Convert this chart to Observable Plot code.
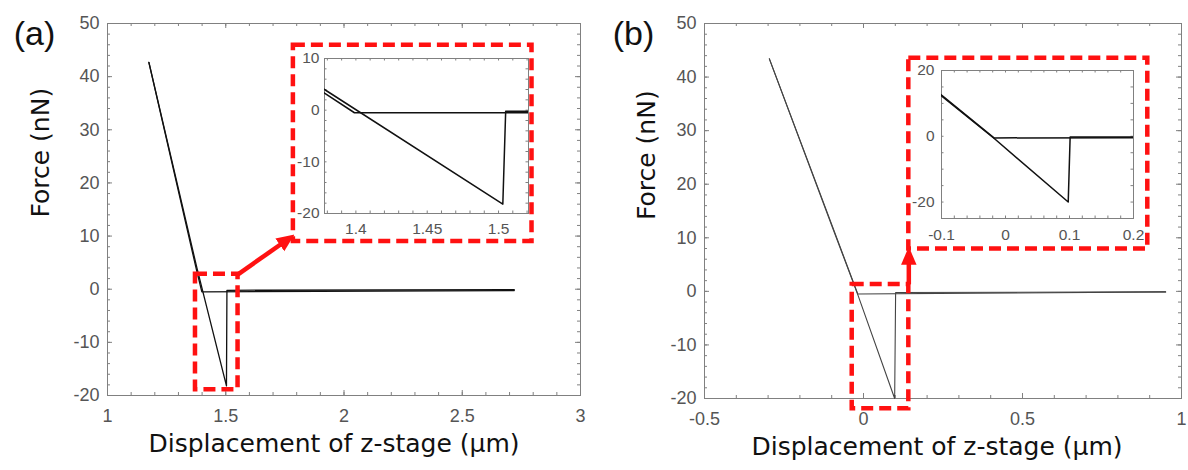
<!DOCTYPE html>
<html><head><meta charset="utf-8">
<script src="https://cdn.jsdelivr.net/npm/d3@7"></script>
<script src="https://cdn.jsdelivr.net/npm/@observablehq/plot@0.6"></script>
<style>
html,body{margin:0;padding:0;background:#fff;}
#root{position:relative;width:1188px;height:470px;overflow:hidden;background:#fff;}
#root svg{position:absolute;}
</style></head><body><div id="root"></div>
<script>
// ---------- data ----------
// Panel (a): approach and retract force curves
const approachA_x = [2.72, 1.399, 1.378, 1.175];
const approachA_y = [-0.25, -0.5, 3.3, 42.7];
const retractA_x = [1.175, 1.378, 1.503, 1.505, 2.72];
const retractA_y = [42.7, 4.0, -18.2, -0.2, -0.1];
// Panel (b)
const approachB_x = [0.95, -0.018, -0.1, -0.296];
const approachB_y = [-0.1, -0.5, 12.5, 43.4];
const retractB_x = [-0.296, -0.1, -0.018, 0.098, 0.101, 0.95];
const retractB_y = [43.4, 12.3, -0.6, -20.0, -0.2, -0.1];

// tick labels
const xTicksA = [1, 1.5, 2, 2.5, 3];
const xTicksB = [-0.5, 0, 0.5, 1];
const yTicksMain = [-20, -10, 0, 10, 20, 30, 40, 50];
const xTicksInsetA = [1.4, 1.45, 1.5];
const yTicksInsetA = [-20, -10, 0, 10];
const xTicksInsetB = [-0.1, 0, 0.1, 0.2];
const yTicksInsetB = [-20, 0, 20];

// annotation boxes / arrows in data units
const zoomBoxA = [1.372, 1.552, -18.9, 2.8];   // x1, x2, y1, y2
const insetBoxA = [1.786, 2.795, 9.0, 45.9];
const arrowA = [1.552, 2.8, 1.766, 9.5];       // x1, y1, x2, y2
const zoomBoxB = [-0.0355, 0.1425, -21.9, 1.3];
const insetBoxB = [0.1425, 0.894, 7.9, 43.5];
const arrowB = [0.1425, 1.3, 0.1425, 7.0];

const xLabel = "Displacement of z-stage (μm)";
const yLabel = "Force (nN)";

// ---------- helpers ----------
const rows = (xs, ys) => xs.map((x, i) => ({x, y: ys[i]}));
const fmt = d => String(d);
const FRAME = "#808080";
const TICKCOL = "#555";
const RED = "#ff1111";
const TITLEFONT = "'DejaVu Sans', sans-serif";

function inwardTicks(xs, ys, innerW, innerH, len) {
  return [
    Plot.tickX(xs, {x: d => d, insetTop: innerH - len, stroke: FRAME}),
    Plot.tickX(xs, {x: d => d, insetBottom: innerH - len, stroke: FRAME}),
    Plot.tickY(ys, {y: d => d, insetRight: innerW - len, stroke: FRAME}),
    Plot.tickY(ys, {y: d => d, insetLeft: innerW - len, stroke: FRAME})
  ];
}
function boxMark(b) {
  return Plot.rect([b], {x1: d => d[0], x2: d => d[1], y1: d => d[2], y2: d => d[3],
    fill: "none", stroke: RED, strokeWidth: 4.5, strokeDasharray: "12,6"});
}
function headMarker(color, context) {
  const ns = "http://www.w3.org/2000/svg";
  const m = document.createElementNS(ns, "marker");
  const id = "head" + Math.random().toString(36).slice(2);
  m.setAttribute("id", id);
  m.setAttribute("viewBox", "-5 -5 10 10");
  m.setAttribute("markerWidth", 18);
  m.setAttribute("markerHeight", 18);
  m.setAttribute("markerUnits", "userSpaceOnUse");
  m.setAttribute("orient", "auto");
  m.setAttribute("refX", 1);
  m.setAttribute("refY", 0);
  const p = document.createElementNS(ns, "path");
  p.setAttribute("d", "M-5,-4.3L5,0L-5,4.3Z");
  p.setAttribute("fill", RED);
  p.setAttribute("stroke", "none");
  m.appendChild(p);
  return m;
}
function arrowMark(a) {
  return Plot.link([a], {x1: d => d[0], y1: d => d[1], x2: d => d[2], y2: d => d[3],
    stroke: RED, strokeWidth: 4.5, markerEnd: headMarker});
}

function mainPanel(o) {
  const innerW = o.width - o.ml - o.mr, innerH = o.height - o.mt - o.mb;
  const svg = Plot.plot({
    width: o.width, height: o.height,
    marginLeft: o.ml, marginRight: o.mr, marginTop: o.mt, marginBottom: o.mb,
    x: {domain: o.xDomain}, y: {domain: [-20, 50]},
    style: {fontFamily: "'Liberation Sans', Arial, sans-serif", background: "transparent", overflow: "visible"},
    marks: [
      Plot.frame({stroke: FRAME}),
      ...inwardTicks(o.xMinor, d3.range(-20, 50.01, 2), innerW, innerH, 3),
      ...inwardTicks(o.xMajor, yTicksMain, innerW, innerH, 5),
      Plot.axisX({ticks: o.xMajor, tickSize: 0, tickPadding: 14, fontSize: 18, fill: TICKCOL, tickFormat: fmt, label: null}),
      Plot.axisY({ticks: yTicksMain, tickSize: 0, tickPadding: 8, fontSize: 18, fill: TICKCOL, tickFormat: fmt, label: null}),
      Plot.line(o.approach, {x: "x", y: "y", stroke: o.lineColor, strokeWidth: o.lw}),
      Plot.line(o.retract, {x: "x", y: "y", stroke: o.lineColor, strokeWidth: o.lw}),
      boxMark(o.zoomBox), boxMark(o.insetBox), arrowMark(o.arrow),
      Plot.text([xLabel], {frameAnchor: "bottom", dy: 48, dx: o.xlDx, fontSize: 25, fontFamily: TITLEFONT, fill: "#111", lineAnchor: "middle"}),
      Plot.text([yLabel], {frameAnchor: "left", dx: o.ylDx, dy: o.ylDy, rotate: -90, fontSize: 25, fontFamily: TITLEFONT, fill: "#111", lineAnchor: "middle"}),
      Plot.text([o.tag], {frameAnchor: "top-left", dx: o.tagDx, dy: 11, fontSize: 34, fill: "#111", textAnchor: "middle", lineAnchor: "middle"})
    ]
  });
  svg.style.left = o.left + "px"; svg.style.top = o.top + "px";
  return svg;
}

function insetPanel(o) {
  const innerW = o.width - o.ml - o.mr, innerH = o.height - o.mt - o.mb;
  const svg = Plot.plot({
    width: o.width, height: o.height,
    marginLeft: o.ml, marginRight: o.mr, marginTop: o.mt, marginBottom: o.mb,
    x: {domain: o.xDomain}, y: {domain: o.yDomain},
    style: {fontFamily: "'Liberation Sans', Arial, sans-serif", background: "transparent", overflow: "visible"},
    marks: [
      Plot.frame({stroke: FRAME}),
      ...inwardTicks(o.xMinor, o.yMinor, innerW, innerH, 2.5),
      Plot.axisX({ticks: o.xMajor, tickSize: 0, tickPadding: o.xPad, fontSize: 15.5, fill: TICKCOL, tickFormat: fmt, label: null}),
      Plot.axisY({ticks: o.yMajor, tickSize: 0, tickPadding: o.yPad, fontSize: 15.5, fill: TICKCOL, tickFormat: fmt, label: null}),
      Plot.line(o.approach, {x: "x", y: "y", stroke: "#111", strokeWidth: 1.5, clip: true}),
      Plot.line(o.retract, {x: "x", y: "y", stroke: "#111", strokeWidth: 1.5, clip: true})
    ]
  });
  svg.style.left = o.left + "px"; svg.style.top = o.top + "px";
  return svg;
}

const root = document.getElementById("root");

root.appendChild(mainPanel({
  left: 0, top: 0, width: 594, height: 470, ml: 107, mr: 14, mt: 23, mb: 75,
  xDomain: [1, 3], xMajor: xTicksA, xMinor: d3.range(1, 3.001, 0.1),
  approach: rows(approachA_x, approachA_y), retract: rows(retractA_x, retractA_y),
  lineColor: "#111", lw: 1.3,
  zoomBox: zoomBoxA, insetBox: insetBoxA, arrow: arrowA,
  xlDx: -10, ylDx: -67, ylDy: 8, tag: "(a)", tagDx: -73
}));

root.appendChild(mainPanel({
  left: 594, top: 0, width: 594, height: 470, ml: 110, mr: 7, mt: 23, mb: 72,
  xDomain: [-0.5, 1], xMajor: xTicksB, xMinor: d3.range(-0.5, 1.001, 0.1),
  approach: rows(approachB_x, approachB_y), retract: rows(retractB_x, retractB_y),
  lineColor: "#444", lw: 1.1,
  zoomBox: zoomBoxB, insetBox: insetBoxB, arrow: arrowB,
  xlDx: -6, ylDx: -58, ylDy: 9, tag: "(b)", tagDx: -71
}));

root.appendChild(insetPanel({
  left: 280, top: 40, width: 260, height: 200, ml: 44, mr: 12, mt: 18, mb: 27,
  xDomain: [1.378, 1.521], yDomain: [-20, 10],
  xMajor: xTicksInsetA, yMajor: yTicksInsetA,
  xMinor: d3.range(1.38, 1.521, 0.01), yMinor: d3.range(-20, 10.01, 2),
  xPad: 9, yPad: 5,
  approach: rows(approachA_x, approachA_y), retract: rows(retractA_x, retractA_y)
}));

root.appendChild(insetPanel({
  left: 900, top: 50, width: 250, height: 195, ml: 41, mr: 17, mt: 20, mb: 27,
  xDomain: [-0.1, 0.2], yDomain: [-25, 20],
  xMajor: xTicksInsetB, yMajor: yTicksInsetB,
  xMinor: d3.range(-0.1, 0.2001, 0.02), yMinor: d3.range(-25, 20.01, 5),
  xPad: 10, yPad: 7,
  approach: rows(approachB_x, approachB_y), retract: rows(retractB_x, retractB_y)
}));
</script></body></html>
